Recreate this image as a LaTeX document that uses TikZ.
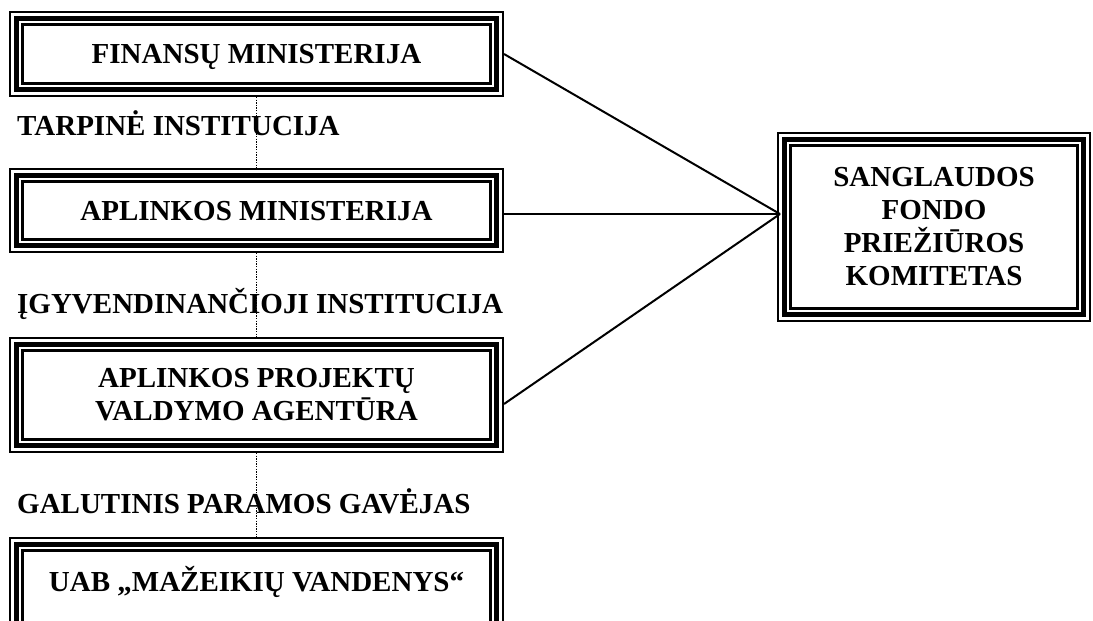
\documentclass[tikz,border=0pt]{standalone}
\usepackage{fontspec}
\setmainfont{Liberation Serif}
\begin{document}
\begin{tikzpicture}[x=1pt,y=-1pt,
  tbox/.style={rectangle,draw=none,inner sep=0pt,outer sep=0pt,font=\fontsize{29}{33}\selectfont\bfseries},
  onel/.style={text height=19.2pt,text depth=0pt},
  lbl/.style={anchor=base west,inner sep=0pt,font=\fontsize{29}{33}\selectfont\bfseries},
  conn/.style={line width=2pt},
  dots/.style={line width=1.4pt,dash pattern=on 1.3pt off 1.3pt}]
\useasboundingbox (0,0) rectangle (1093,621);
\clip (0,0) rectangle (1093,621);
\node[tbox,onel,minimum width=495pt,minimum height=86pt] (b1) at (256.5,54) {FINANSŲ MINISTERIJA};
\node[tbox,onel,minimum width=495pt,minimum height=85pt] (b2) at (256.5,210.5) {APLINKOS MINISTERIJA};
\node[tbox,align=center,minimum width=495pt,minimum height=116pt] (b3) at (256.5,395) {APLINKOS PROJEKTŲ\\VALDYMO AGENTŪRA};
\node[tbox,text height=19.2pt,text depth=10pt,minimum width=495pt,minimum height=100pt] (b4) at (256.5,587) {UAB „MAŽEIKIŲ VANDENYS“};
\node[tbox,align=center,minimum width=314pt,minimum height=190pt] (sf) at (934,227) {SANGLAUDOS\\FONDO\\PRIEŽIŪROS\\KOMITETAS};
\foreach \n in {b1,b2,b3,b4,sf}{
  \draw[line width=2.4pt] ([shift={(1.2pt,-1.2pt)}]\n.north west) rectangle ([shift={(-1.2pt,1.2pt)}]\n.south east);
  \draw[line width=5.5pt] ([shift={(7.5pt,-7.5pt)}]\n.north west) rectangle ([shift={(-7.5pt,7.5pt)}]\n.south east);
  \draw[line width=2.4pt] ([shift={(13.5pt,-13.5pt)}]\n.north west) rectangle ([shift={(-13.5pt,13.5pt)}]\n.south east);
}
\node[lbl] (l1) at (17,135) {TARPINĖ INSTITUCIJA};
\node[lbl] (l2) at (17,313) {ĮGYVENDINANČIOJI INSTITUCIJA};
\node[lbl] (l3) at (17,513) {GALUTINIS PARAMOS GAVĖJAS};
\draw[dots] (b1.south) -- (b2.north);
\draw[dots] (b2.south) -- (b3.north);
\draw[dots] (b3.south) -- (b4.north);
\coordinate (conv) at ([xshift=3pt,yshift=13pt]sf.west);
\draw[conn] (b1.east) -- (conv);
\draw[conn] (b2.east |- conv) -- (conv);
\draw[conn] ([yshift=-9pt]b3.east) -- (conv);
\end{tikzpicture}
\end{document}
